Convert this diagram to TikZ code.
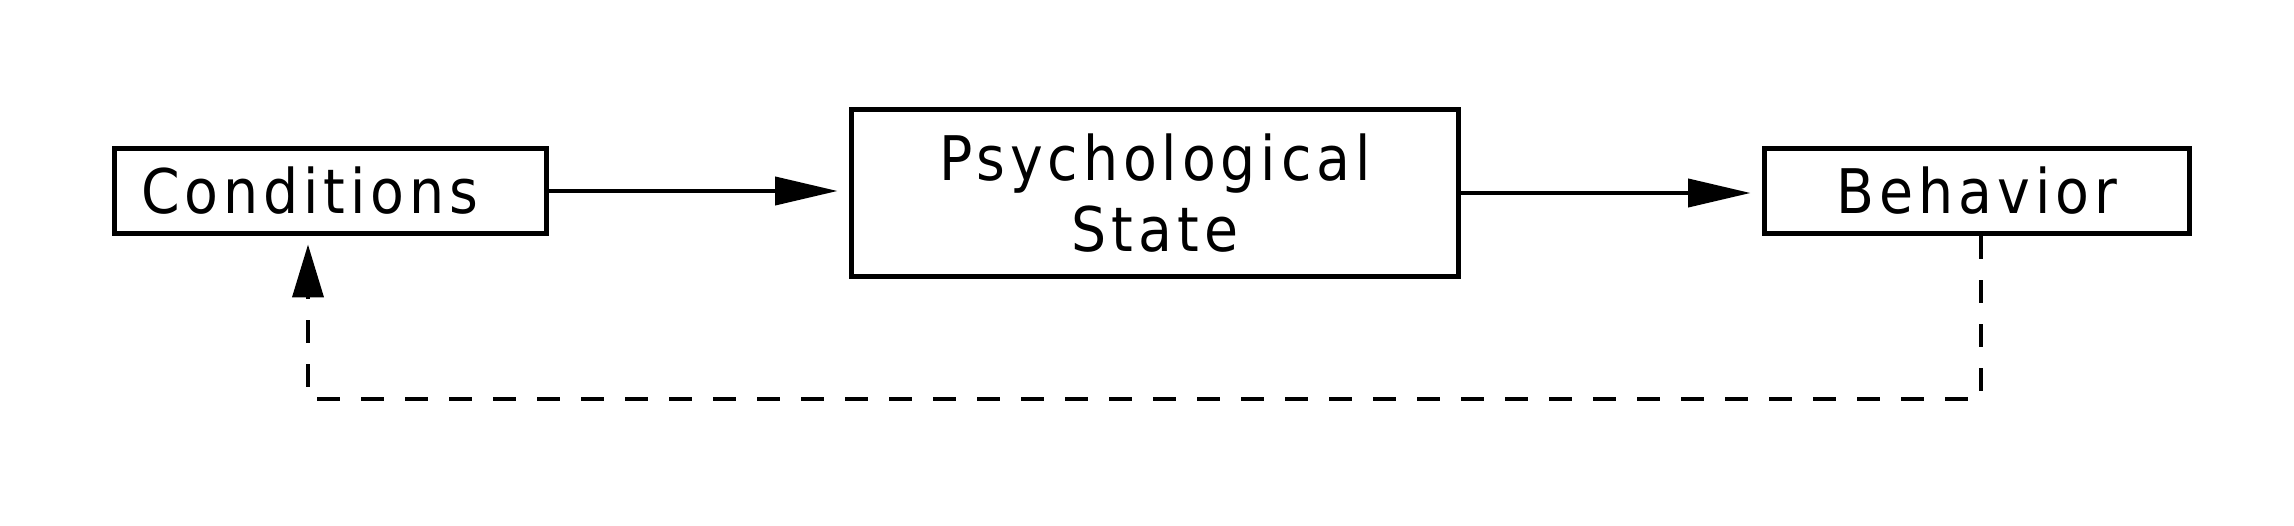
\documentclass[tikz,border=0pt]{standalone}
\usepackage{fontspec}
\setmainfont[LetterSpace=8]{DejaVu Sans Condensed}
\usetikzlibrary{arrows.meta,calc}
\tikzset{
  box/.style={draw, line width=0.1cm, rectangle, inner sep=0pt,
    font=\fontsize{35}{40}\selectfont},
  flow/.style={line width=0.08cm, -{Triangle[length=1.25cm,width=0.56cm]}, shorten >=0.22cm},
  feedback/.style={line width=0.08cm, dash pattern=on 0.46cm off 0.42cm,
    -{Triangle[length=1.06cm,width=0.62cm]}, shorten >=0.16cm}
}
\begin{document}
\begin{tikzpicture}[x=0.02cm,y=-0.02cm]
\useasboundingbox (0,0) rectangle (2294,526);
\node[box, minimum width=8.66cm, minimum height=1.72cm, text width=7.58cm,
  inner xsep=0.54cm, align=left] (cond) at (330.5,191) {Conditions};
\node[box, minimum width=12.16cm, minimum height=3.36cm, align=center] (psych) at (1155,193) {Psychological\\State};
\node[box, minimum width=8.52cm, minimum height=1.72cm] (beh) at (1977,191) {Behavior};
\draw[flow] (cond.east) -- (cond.east -| psych.west);
\draw[flow] (psych.east) -- (psych.east -| beh.west);
\coordinate (c1) at (1981,399);
\coordinate (c2) at (308,399);
\draw[feedback] (beh.south -| c1) -- (c1) -- (c2) -- (c2 |- cond.south);
\end{tikzpicture}
\end{document}
